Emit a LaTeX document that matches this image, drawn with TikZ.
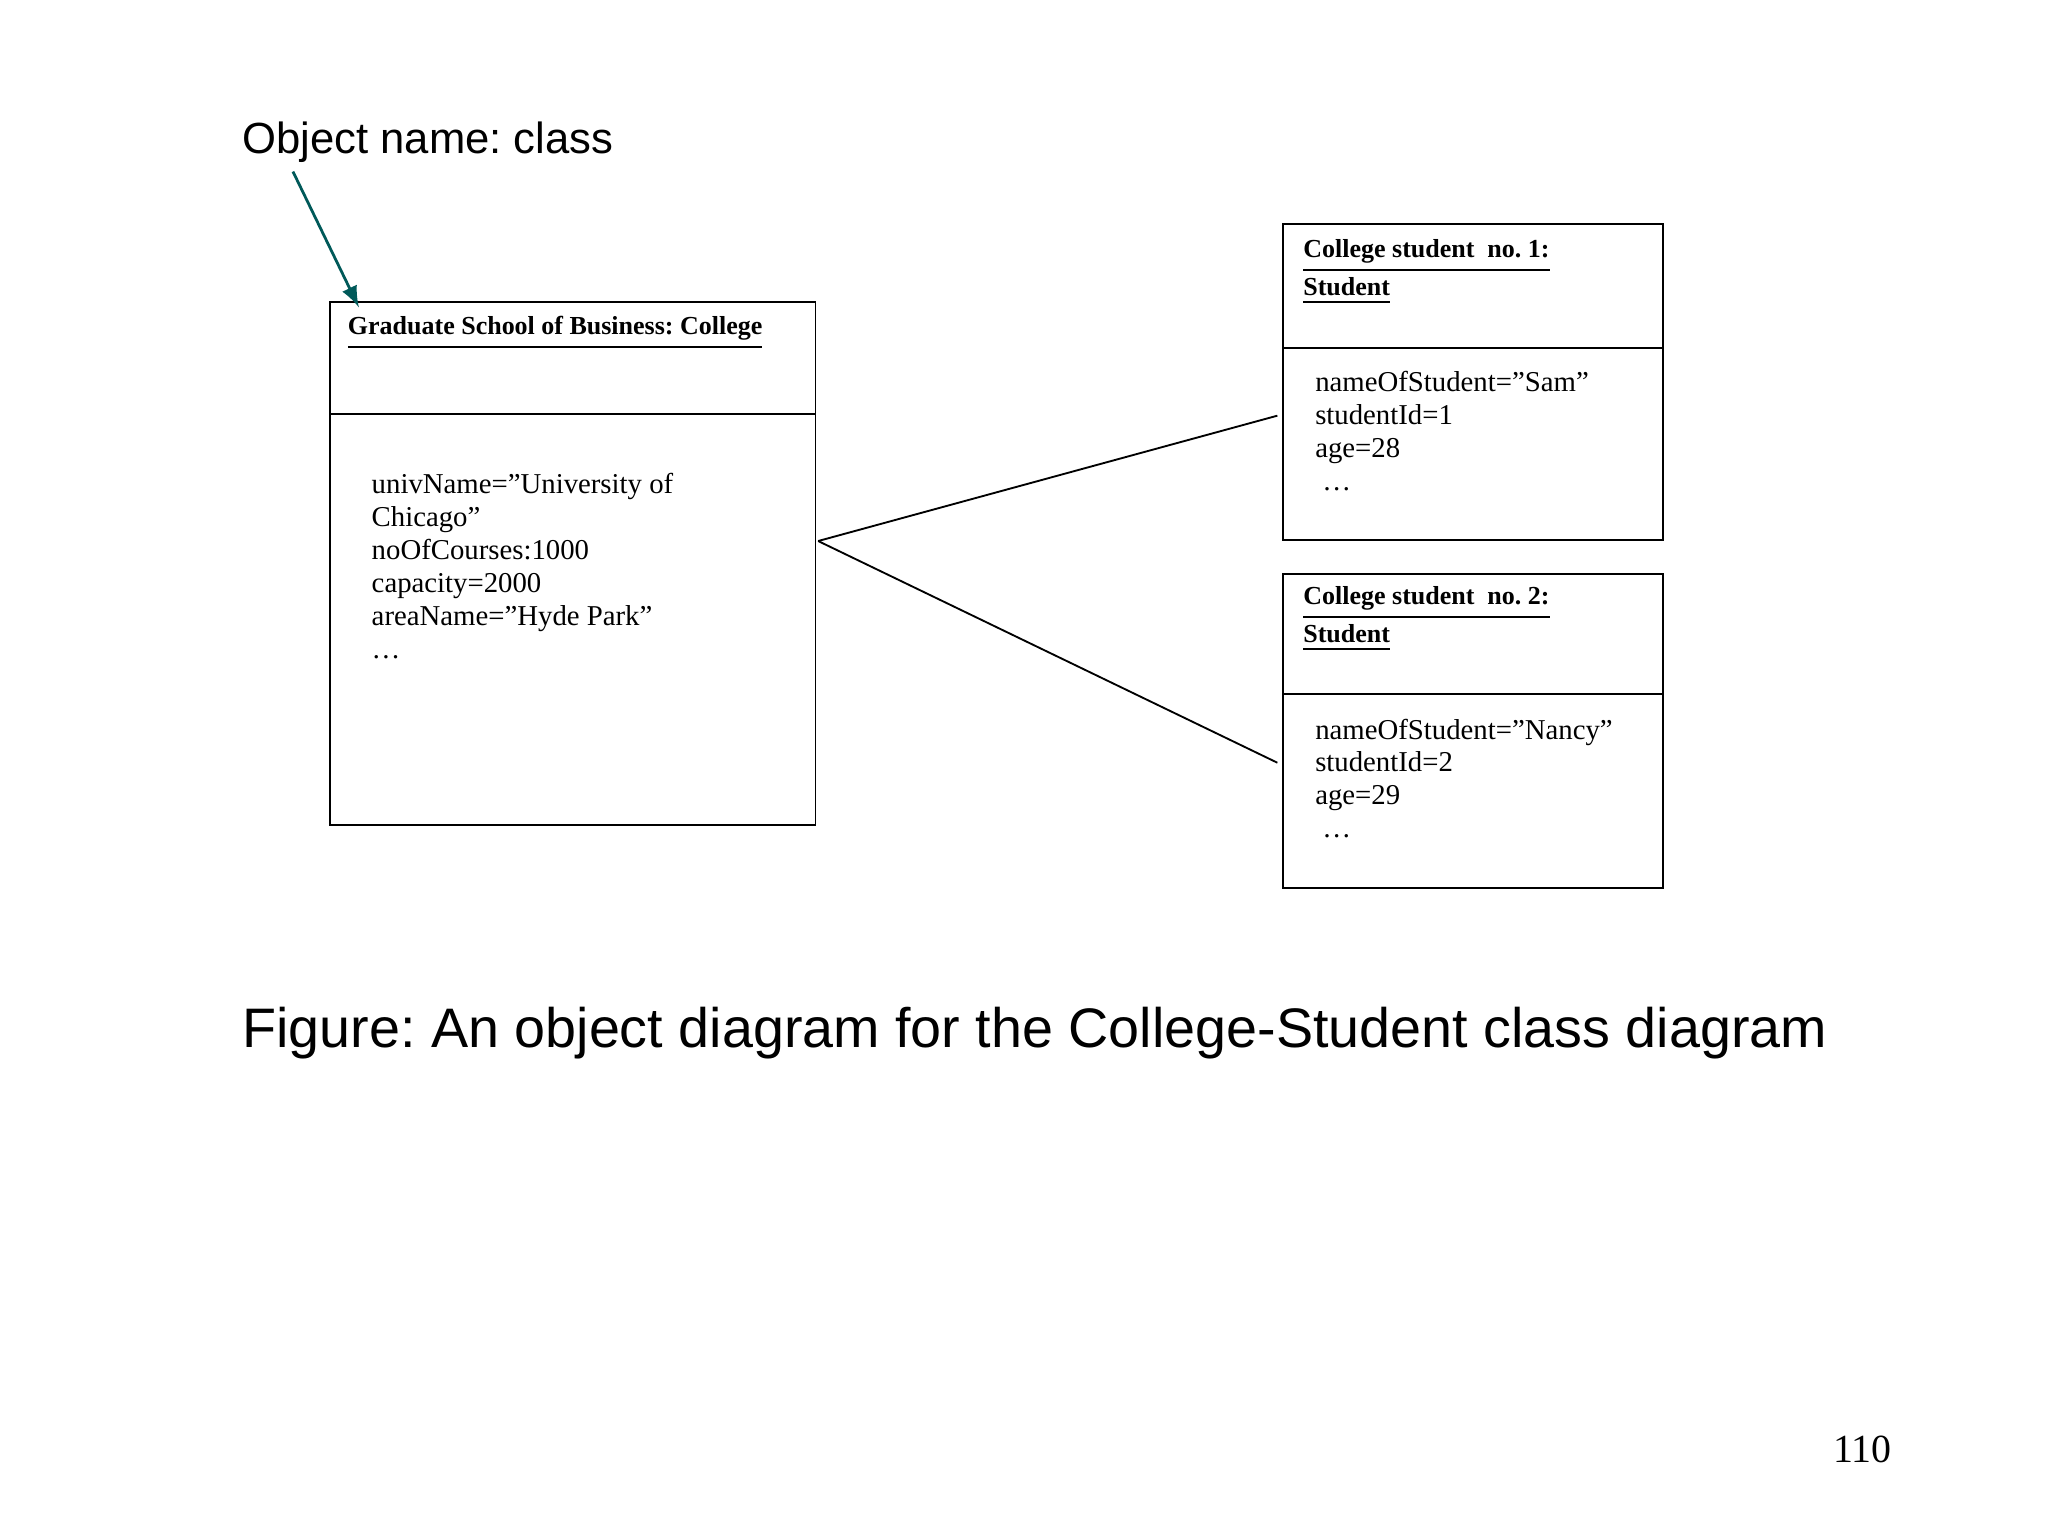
\documentclass[tikz,border=0pt]{standalone}
\usepackage{fontspec}
\setmainfont{Liberation Serif}
\newfontfamily\arialf{Liberation Sans}
\frenchspacing
\begin{document}
\begin{tikzpicture}[x=0.01cm,y=-0.01cm,line width=0.4pt,
  ttl/.style={anchor=north west,inner sep=0,font=\fontsize{5.6}{6.9}\selectfont\bfseries,align=left},
  att/.style={anchor=north west,inner sep=0,font=\fontsize{6.2}{7.1}\selectfont,align=left},
  sans/.style={anchor=base west,inner sep=0,font=\arialf}]
\useasboundingbox (0,0) rectangle (1552,1164);
\node[sans,font=\arialf\fontsize{9.4}{11}\selectfont] (on) at (183,116) {Object name: class};
\coordinate (a0) at (222,130);
\draw (250,229) rectangle (618,625); \draw (250,314)--(618,314);
\node[ttl] (t1) at (263,239) {\underline{Graduate School of Business: College}};
\node[att] (c1) at (281,358) {univName=''University of\\Chicago''\\noOfCourses:1000\\capacity=2000\\areaName=''Hyde Park''\\\dots};
\draw[teal!70!black,line width=0.6pt,-latex] (a0)--(272,233);
\draw (972,170) rectangle (1260,409); \draw (972,264)--(1260,264);
\node[ttl] (s1) at (987,181) {\underline{College student\ \ no. 1:}\\\underline{Student}};
\node[att] (a1) at (996,281) {nameOfStudent=''Sam''\\studentId=1\\age=28\\\ \dots};
\draw (972,435) rectangle (1260,673); \draw (972,526)--(1260,526);
\node[ttl] (s2) at (987,444) {\underline{College student\ \ no. 2:}\\\underline{Student}};
\node[att] (a2) at (996,544) {nameOfStudent=''Nancy''\\studentId=2\\age=29\\\ \dots};
\coordinate (p) at (620,410);
\draw (p)--(968,315);
\draw (p)--(968,578);
\node[sans,font=\arialf\fontsize{12}{14}\selectfont] (cap) at (183,794) {Figure: An object diagram for the College-Student class diagram};
\node[anchor=base east,inner sep=0,font=\fontsize{8.6}{10}\selectfont] (pg) at (1434,1108) {110};
\end{tikzpicture}
\end{document}
